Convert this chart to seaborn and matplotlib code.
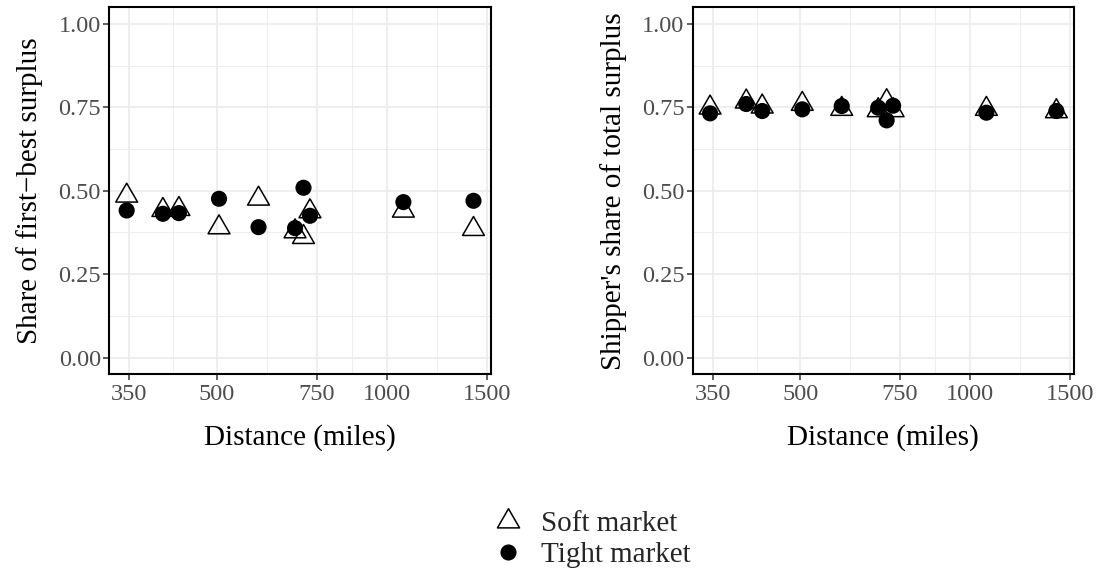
import numpy as np
import pandas as pd
import seaborn as sns
import matplotlib
matplotlib.use("Agg")
import matplotlib.pyplot as plt
from matplotlib.markers import MarkerStyle
from matplotlib.path import Path
from matplotlib.lines import Line2D
from matplotlib.ticker import FixedLocator, NullFormatter

# ---------------- data ----------------
distance = [346, 401, 428, 504, 592, 687, 711, 730, 1068, 1421]
firstbest_soft = [0.485, 0.442, 0.445, 0.390, 0.476, 0.378, 0.361, 0.438, 0.440, 0.385]
firstbest_tight = [0.441, 0.431, 0.433, 0.476, 0.391, 0.388, 0.509, 0.425, 0.466, 0.470]
shipper_soft = [0.749, 0.767, 0.752, 0.760, 0.745, 0.741, 0.768, 0.741, 0.745, 0.738]
shipper_tight = [0.732, 0.760, 0.739, 0.744, 0.754, 0.749, 0.711, 0.755, 0.734, 0.739]
markets = ["Soft market", "Tight market"]
x_ticks = [350, 500, 750, 1000, 1500]
y_ticks = [0.0, 0.25, 0.50, 0.75, 1.00]
x_label = "Distance (miles)"
y_labels = ["Share of first\u2212best surplus", "Shipper's share of total surplus"]

# ---------------- style ----------------
sns.set_theme(style="white")
plt.rcParams["font.family"] = ["Liberation Serif", "DejaVu Serif"]

TICK_GREY = "#4D4D4D"
GRID = "#EBEBEB"
TRI = MarkerStyle(Path([(0, 1), (-0.866, -0.5), (0.866, -0.5), (0, 1)],
                       [Path.MOVETO, Path.LINETO, Path.LINETO, Path.CLOSEPOLY]))

def make_df(soft, tight):
    return pd.DataFrame({
        "distance": distance * 2,
        "share": list(soft) + list(tight),
        "market": [markets[0]] * len(distance) + [markets[1]] * len(distance),
    })

panels = [make_df(firstbest_soft, firstbest_tight),
          make_df(shipper_soft, shipper_tight)]

fig = plt.figure(figsize=(11.01, 5.76), dpi=100)
axes = [fig.add_axes([0.0993, 0.3502, 0.3465, 0.6372]),
        fig.add_axes([0.6292, 0.3502, 0.3460, 0.6372])]

lx = np.log10(distance)
span = lx.max() - lx.min()
xlim = (10 ** (lx.min() - 0.05 * span), 10 ** (lx.max() + 0.05 * span))
lt = np.log10(x_ticks)
x_minor = list(10 ** ((lt[:-1] + lt[1:]) / 2))
y_minor = [0.125, 0.375, 0.625, 0.875]

for ax, df, ylab in zip(axes, panels, y_labels):
    ax.set_xscale("log")
    soft = df[df["market"] == markets[0]]
    tight = df[df["market"] == markets[1]]
    sns.scatterplot(data=soft, x="distance", y="share", ax=ax, marker=TRI,
                    s=330, color="black", facecolor="none", edgecolor="black",
                    linewidth=1.1, legend=False, zorder=3)
    sns.scatterplot(data=tight, x="distance", y="share", ax=ax, marker="o",
                    s=135, color="black", edgecolor="none", linewidth=0,
                    legend=False, zorder=4)
    ax.set_xlim(*xlim)
    ax.set_ylim(-0.05, 1.05)
    ax.xaxis.set_major_locator(FixedLocator(x_ticks))
    ax.xaxis.set_minor_locator(FixedLocator(x_minor))
    ax.xaxis.set_minor_formatter(NullFormatter())
    ax.set_xticklabels([str(t) for t in x_ticks])
    ax.yaxis.set_major_locator(FixedLocator(y_ticks))
    ax.yaxis.set_minor_locator(FixedLocator(y_minor))
    ax.set_yticklabels([f"{t:.2f}" for t in y_ticks])
    ax.grid(which="major", color=GRID, linewidth=1.2, zorder=0)
    ax.grid(which="minor", color=GRID, linewidth=0.6, zorder=0)
    ax.set_axisbelow(True)
    ax.tick_params(which="major", length=4.5, width=1.1, color="#333333",
                   labelsize=17.5, labelcolor=TICK_GREY, pad=1.5,
                   bottom=True, left=True)
    ax.tick_params(axis="x", which="major", pad=2.5)
    ax.tick_params(which="minor", length=0)
    for sp in ax.spines.values():
        sp.set_visible(True)
        sp.set_color("black")
        sp.set_linewidth(1.5)
    ax.set_xlabel(x_label, fontsize=21, color="black", labelpad=14)
    ax.set_ylabel(ylab, fontsize=21, color="black", labelpad=11)

handles = [
    Line2D([], [], linestyle="none", marker=TRI, markersize=18.4,
           markerfacecolor="none", markeredgecolor="black", markeredgewidth=1.1),
    Line2D([], [], linestyle="none", marker="o", markersize=11.6,
           markerfacecolor="black", markeredgecolor="black", markeredgewidth=0),
]
fig.legend(handles, markets, loc="center", bbox_to_anchor=(0.538, 0.063),
           frameon=False, fontsize=21, handlelength=1.0, handletextpad=0.62,
           labelspacing=0.16, borderpad=0)

fig.savefig("out.png", dpi=100)
